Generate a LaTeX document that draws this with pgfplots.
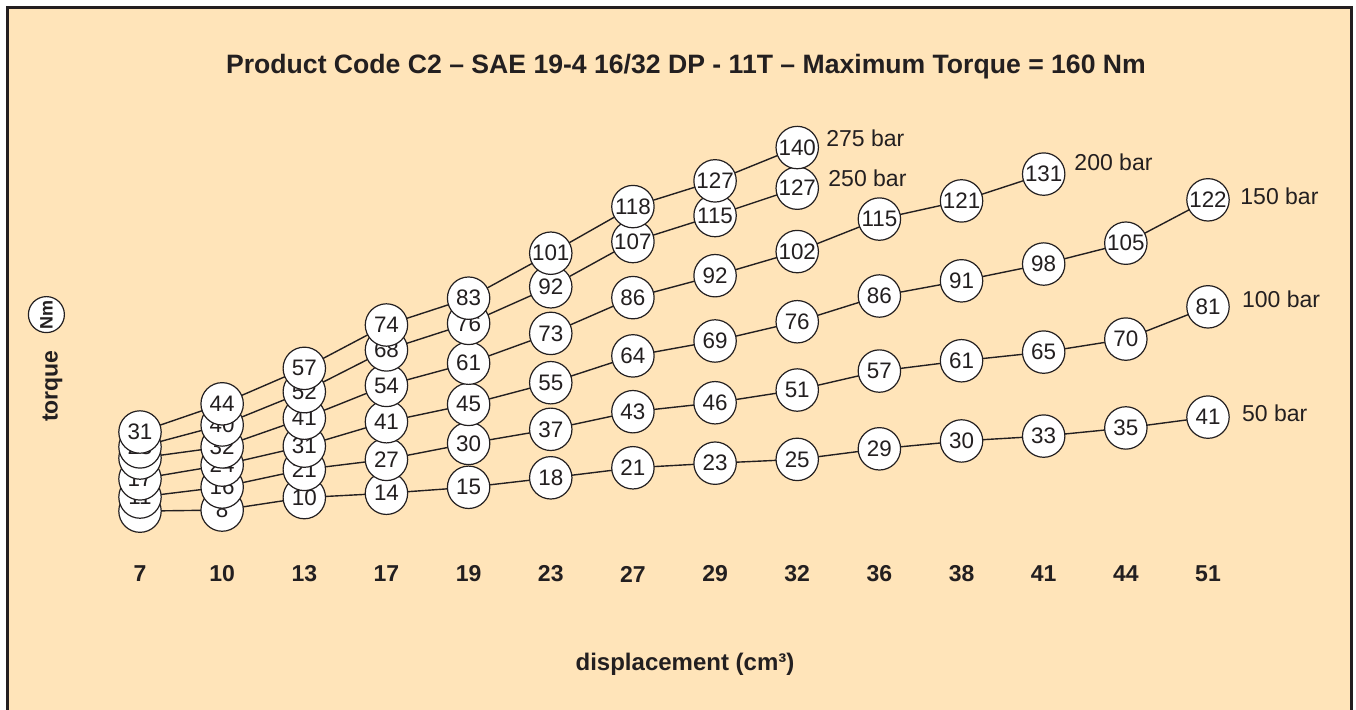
\documentclass[border=0pt]{standalone}
\usepackage{fontspec}
\setmainfont{Liberation Sans}
\usepackage{pgfplots}
\pgfplotsset{compat=1.18}
\usepackage{pgfplotstable}
\definecolor{bg}{RGB}{255,228,185}
\definecolor{txt}{RGB}{35,31,32}

% x = category index, y = drawn height (torque scale), v = printed torque (Nm)
\pgfplotstableread{
x y v
0 5.6 6
1 6.0 8
2 10.6 10
3 12.2 14
4 14.4 15
5 17.9 18
6 21.6 21
7 23.3 23
8 24.7 25
9 28.6 29
10 31.5 30
11 33.3 33
12 36.3 35
13 40.3 41
}\barA
\pgfplotstableread{
x y v
0 10.8 11
1 14.5 16
2 21.0 21
3 24.7 27
4 30.6 30
5 35.8 37
6 42.3 43
7 45.6 46
8 50.3 51
9 57.3 57
10 61.1 61
11 64.3 65
12 69.1 70
13 81.0 81
}\barB
\pgfplotstableread{
x y v
0 17.5 17
1 22.6 24
2 29.6 31
3 38.6 41
4 45.0 45
5 53.0 55
6 62.9 64
7 68.4 69
8 75.5 76
9 85.0 86
10 90.6 91
11 96.8 98
12 104.5 105
13 120.5 122
}\barC
\pgfplotstableread{
x y v
0 25.2 22
1 29.3 32
2 39.9 41
3 52.0 54
4 60.2 61
5 71.2 73
6 84.4 86
7 92.5 92
8 101.4 102
9 113.4 115
10 120.1 121
11 130.0 131
}\barD
\pgfplotstableread{
x y v
0 29.3 28
1 37.4 40
2 49.7 52
3 65.1 68
4 74.9 76
5 88.4 92
6 105.1 107
7 114.7 115
8 124.8 127
}\barE
\pgfplotstableread{
x y v
0 34.8 31
1 45.2 44
2 58.3 57
3 74.3 74
4 84.2 83
5 100.8 101
6 118.0 118
7 127.5 127
8 139.8 140
}\barF

\begin{document}
\begin{tikzpicture}[x=1pt,y=1pt]
\useasboundingbox (0,0) rectangle (678,354.5);
\fill[white] (0,0) rectangle (678,354.5);
\filldraw[fill=bg, draw=txt, line width=1.5pt] (3.75,-5) rectangle (675.75,350.75);
\node[font=\bfseries\fontsize{13.3}{15}\selectfont, text=txt] at (343,321) {Product Code C2 – SAE 19-4 16/32 DP - 11T – Maximum Torque = 160 Nm};
\node[font=\bfseries\fontsize{12}{14}\selectfont, text=txt] at (342.5,22.5) {displacement (cm³)};
\node[rotate=90, font=\bfseries\fontsize{11.5}{13}\selectfont, text=txt, inner sep=0] at (26.25,161.5) {torque};
\node[circle, draw=txt, fill=white, line width=0.6pt, minimum size=18pt, inner sep=0, rotate=90, font=\bfseries\fontsize{9}{11}\selectfont, text=txt] at (23.2,197.2) {Nm};
\begin{axis}[
  at={(70pt,91.35pt)}, anchor=south west,
  scale only axis, width=534pt, height=203.2pt,
  xmin=0, xmax=13, ymin=0, ymax=150,
  clip=false,
  axis line style={draw=none},
  major tick length=0pt,
  ytick=\empty,
  xtick={0,...,13},
  xticklabels={7,10,13,17,19,23,27,29,32,36,38,41,44,51},
  xticklabel style={anchor=center, yshift=-23.85pt, font=\bfseries\fontsize{11.5}{13}\selectfont, text=txt},
  linestyle/.style={txt, line width=0.7pt, no marks},
  circ/.style={only marks, mark=*, mark size=10.6pt,
    mark options={fill=white, draw=txt, line width=0.6pt},
    point meta=explicit symbolic,
    nodes near coords,
    nodes near coords style={anchor=center, inner sep=0pt, text=txt, font=\fontsize{11.2}{13}\selectfont}},
]
\addplot[linestyle] table[x=x,y=y] {\barA};
\addplot[linestyle] table[x=x,y=y] {\barB};
\addplot[linestyle] table[x=x,y=y] {\barC};
\addplot[linestyle] table[x=x,y=y] {\barD};
\addplot[linestyle] table[x=x,y=y] {\barE};
\addplot[linestyle] table[x=x,y=y] {\barF};
\addplot[circ] table[x=x,y=y,meta=v] {\barA};
\addplot[circ] table[x=x,y=y,meta=v] {\barB};
\addplot[circ] table[x=x,y=y,meta=v] {\barC};
\addplot[circ] table[x=x,y=y,meta=v] {\barD};
\addplot[circ] table[x=x,y=y,meta=v] {\barE};
\addplot[circ] table[x=x,y=y,meta=v] {\barF};
\begin{scope}[every node/.style={anchor=west, inner sep=0pt, text=txt, font=\fontsize{11.5}{13}\selectfont}]
\node at (axis cs:8.35,143.3) {275 bar};
\node at (axis cs:8.375,128.6) {250 bar};
\node at (axis cs:11.37,134.5) {200 bar};
\node at (axis cs:13.39,121.9) {150 bar};
\node at (axis cs:13.41,83.9) {100 bar};
\node at (axis cs:13.41,41.8) {50 bar};
\end{scope}
\end{axis}
\end{tikzpicture}
\end{document}
